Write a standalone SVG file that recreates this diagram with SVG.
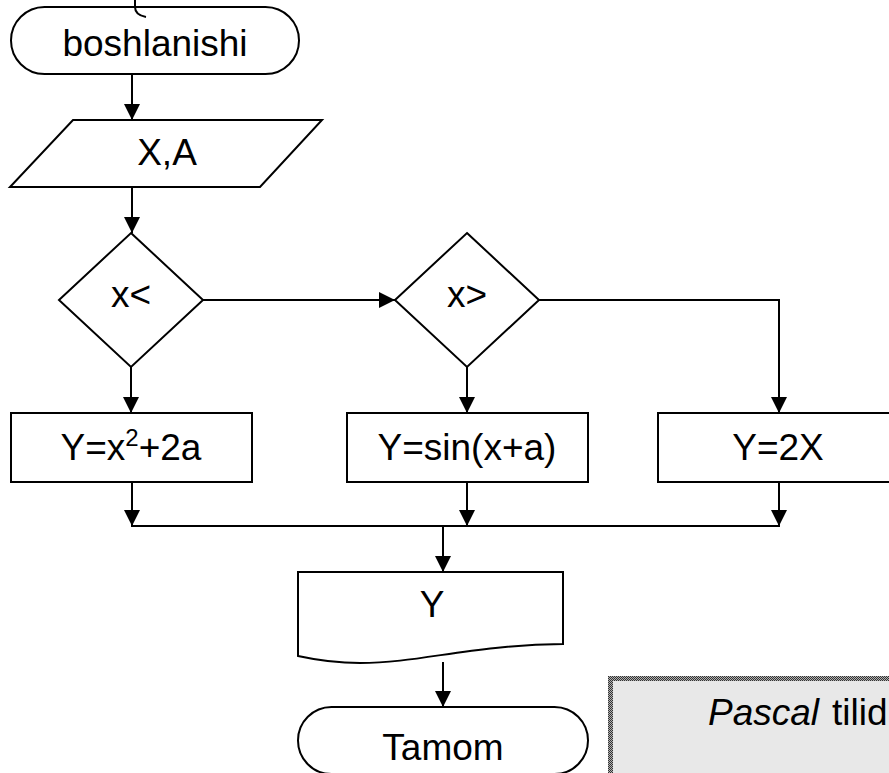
<svg xmlns="http://www.w3.org/2000/svg" width="889" height="773" viewBox="0 0 889 773">
<style>
.s{fill:#fff;stroke:#000;stroke-width:2}
.c{fill:none;stroke:#000;stroke-width:2}
.t{font-family:"Liberation Sans",Arial,sans-serif;font-size:37px;fill:#000;text-anchor:middle}
</style>
<defs>
<marker id="ah" markerUnits="userSpaceOnUse" markerWidth="16" markerHeight="16" viewBox="0 0 16 16" refX="16" refY="8" orient="auto">
<path d="M0,0 L16,8 L0,16 Z" fill="#000"/>
</marker>
<pattern id="chk" width="2" height="2" patternUnits="userSpaceOnUse">
<rect width="2" height="2" fill="#b0b0b0"/>
<rect width="1" height="1" fill="#333"/>
<rect x="1" y="1" width="1" height="1" fill="#333"/>
</pattern>
</defs>
<rect width="889" height="773" fill="#fff"/>
<g id="connectors">
<line class="c" x1="132" y1="74" x2="132" y2="120" marker-end="url(#ah)"/>
<line class="c" x1="132" y1="187" x2="132" y2="233" marker-end="url(#ah)"/>
<line class="c" x1="203" y1="300" x2="395" y2="300" marker-end="url(#ah)"/>
<path class="c" d="M539,300 H779 V413" marker-end="url(#ah)"/>
<line class="c" x1="131" y1="367" x2="131" y2="413" marker-end="url(#ah)"/>
<line class="c" x1="467" y1="367" x2="467" y2="413" marker-end="url(#ah)"/>
<line class="c" x1="132" y1="482" x2="132" y2="526" marker-end="url(#ah)"/>
<line class="c" x1="467" y1="482" x2="467" y2="526" marker-end="url(#ah)"/>
<line class="c" x1="779" y1="482" x2="779" y2="526" marker-end="url(#ah)"/>
<line class="c" x1="131" y1="526" x2="780" y2="526"/>
<line class="c" x1="443" y1="526" x2="443" y2="572" marker-end="url(#ah)"/>
<line class="c" x1="443" y1="662" x2="443" y2="707" marker-end="url(#ah)"/>
</g>
<g id="start">
<rect class="s" x="11" y="7" width="288" height="67" rx="33.5"/>
<text class="t" x="155" y="56">boshlanishi</text>
</g>
<path class="c" d="M135,0 V7 Q135,15 146,17"/>
<g id="input">
<polygon class="s" points="73,120 322,120 260,187 10,187"/>
<text class="t" x="167" y="165">X,A</text>
</g>
<g id="cond1">
<polygon class="s" points="131,233 203,300 131,367 59,300"/>
<text class="t" x="131" y="307">x&lt;</text>
</g>
<g id="cond2">
<polygon class="s" points="467,233 539,300 467,367 395,300"/>
<text class="t" x="467" y="307">x&gt;</text>
</g>
<g id="box1">
<rect class="s" x="11" y="413" width="241" height="69"/>
<text class="t" x="131" y="460">Y=x<tspan font-size="24" dy="-14">2</tspan><tspan dy="14">+2a</tspan></text>
</g>
<g id="box2">
<rect class="s" x="347" y="413" width="241" height="69"/>
<text class="t" x="467" y="460">Y=sin(x+a)</text>
</g>
<g id="box3">
<rect class="s" x="658" y="413" width="241" height="69"/>
<text class="t" x="778" y="460">Y=2X</text>
</g>
<g id="output">
<path class="s" d="M298,572 H563 V644 C470,645 420,663 360,663 Q330,663 298,656 Z"/>
<text class="t" x="432" y="617">Y</text>
</g>
<g id="end">
<rect class="s" x="298" y="707" width="290" height="67" rx="33.5"/>
<text class="t" x="443" y="760">Tamom</text>
</g>
<g id="note">
<rect x="608" y="676" width="290" height="110" fill="url(#chk)"/>
<rect x="613" y="681" width="280" height="100" fill="#e8e8e8"/>
<text class="t" x="708" y="725" style="text-anchor:start"><tspan font-style="italic">Pascal</tspan><tspan x="832">tilid</tspan></text>
</g>
</svg>
